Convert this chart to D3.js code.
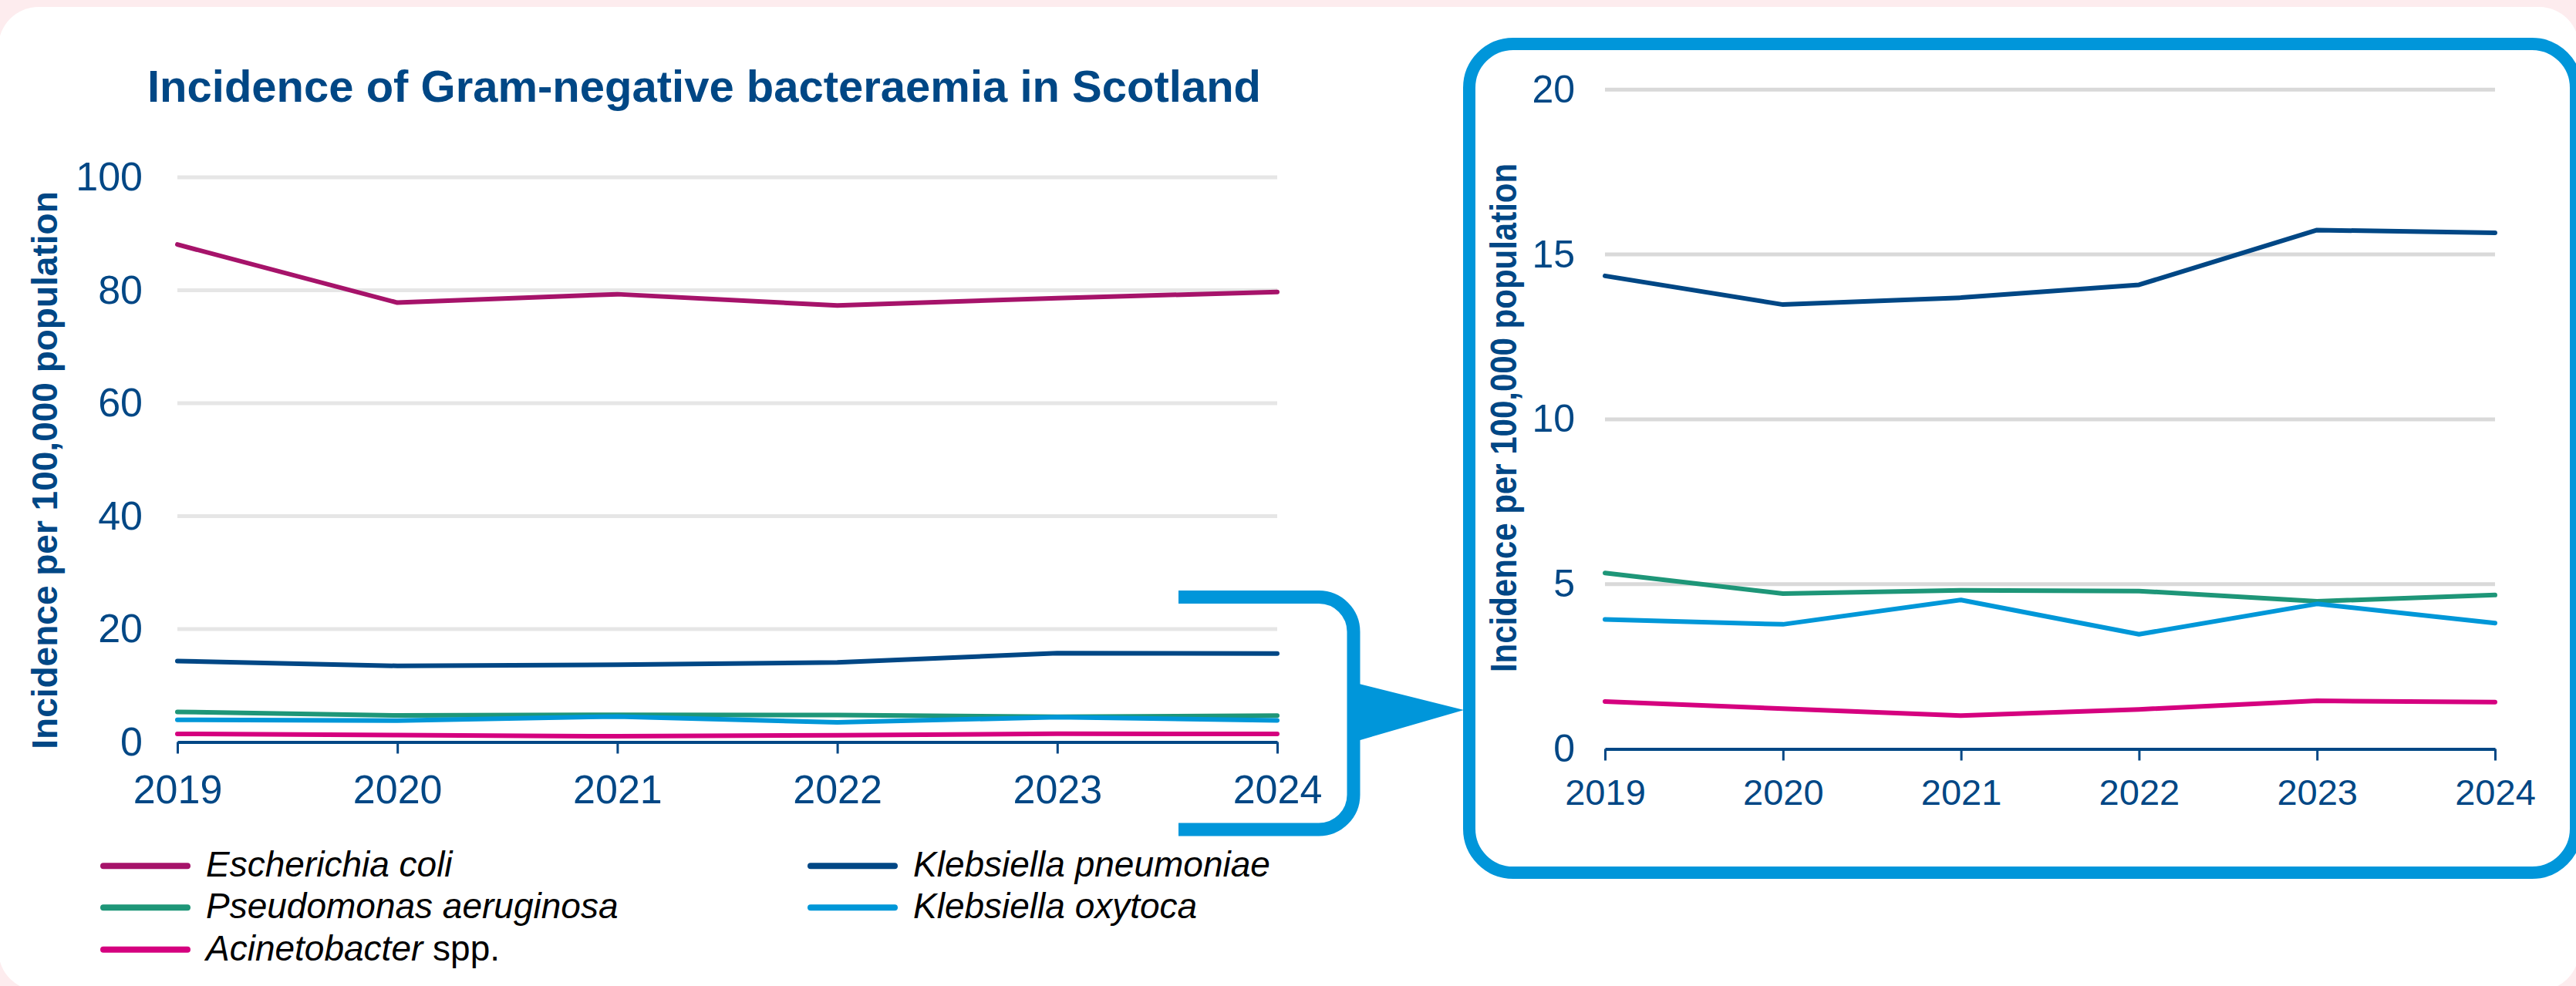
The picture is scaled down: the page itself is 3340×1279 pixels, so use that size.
<!DOCTYPE html>
<html>
<head>
<meta charset="utf-8">
<script src="https://cdn.jsdelivr.net/npm/d3@7"></script>
<style>
  html, body { margin: 0; padding: 0; background: #fdecee; }
  svg { display: block; }
</style>
</head>
<body>
<svg id="chart" width="3340" height="1279"></svg>
<script>
// Incidence per 100,000 population, Scotland, 2019-2024
const years = [2019, 2020, 2021, 2022, 2023, 2024];
const eColi = [88.1, 77.8, 79.3, 77.3, 78.6, 79.7];
const kPneumoniae = [14.35, 13.48, 13.69, 14.08, 15.74, 15.66];
const pAeruginosa = [5.34, 4.71, 4.81, 4.79, 4.48, 4.67];
const kOxytoca = [3.93, 3.78, 4.52, 3.48, 4.40, 3.82];
const acinetobacter = [1.44, 1.22, 1.01, 1.20, 1.46, 1.42];

const seriesNames = ["Escherichia coli", "Klebsiella pneumoniae", "Pseudomonas aeruginosa", "Klebsiella oxytoca", "Acinetobacter"];
const seriesValues = [eColi, kPneumoniae, pAeruginosa, kOxytoca, acinetobacter];
const seriesColors = ["#a6136a", "#004785", "#1e9678", "#0097d8", "#d5007f"];

const mainTicks = [0, 20, 40, 60, 80, 100];
const zoomTicks = [0, 5, 10, 15, 20];

const titleText = "Incidence of Gram-negative bacteraemia in Scotland";
const yTitleText = "Incidence per 100,000 population";

const NAVY = "#004785";
const BLUE = "#0096da";
const FONT = "'Liberation Sans', Arial, Helvetica, sans-serif";

const svg = d3.select("#chart");

// page background and white card
svg.append("rect").attr("width", 3340).attr("height", 1279).attr("fill", "#fdecee");
svg.append("rect").attr("x", -2).attr("y", 9).attr("width", 3346).attr("height", 1276)
  .attr("rx", 52).attr("fill", "#ffffff");

function drawPanel(opt) {
  const g = svg.append("g");
  const x = d3.scalePoint().domain(years).range([opt.x0, opt.x1]);
  const y = d3.scaleLinear().domain([0, d3.max(opt.ticks)]).range([opt.yBottom, opt.yTop]);

  // horizontal gridlines
  g.append("g").selectAll("line")
    .data(opt.ticks.filter(t => t !== 0))
    .join("line")
    .attr("x1", opt.x0).attr("x2", opt.x1)
    .attr("y1", d => y(d)).attr("y2", d => y(d))
    .attr("stroke", opt.gridColor).attr("stroke-width", 5);

  // x axis
  const xa = g.append("g")
    .attr("transform", `translate(0,${y(0)})`)
    .call(d3.axisBottom(x).tickSize(15).tickSizeOuter(0).tickPadding(opt.xPad));
  xa.attr("font-family", FONT).attr("font-size", opt.xFont).attr("color", NAVY);
  xa.select(".domain").attr("stroke-width", 4);
  xa.selectAll(".tick line").attr("stroke-width", 3);

  // y axis labels
  const ya = g.append("g")
    .attr("transform", `translate(${opt.x0},0)`)
    .call(d3.axisLeft(y).tickValues(opt.ticks).tickSize(0).tickPadding(opt.yPad));
  ya.attr("font-family", FONT).attr("font-size", opt.yFont).attr("color", NAVY);
  ya.select(".domain").remove();

  // series lines
  const line = d3.line().x((d, i) => x(years[i])).y(d => y(d));
  g.append("g").selectAll("path")
    .data(seriesValues)
    .join("path")
    .attr("d", d => line(d))
    .attr("fill", "none")
    .attr("stroke", (d, i) => seriesColors[i])
    .attr("stroke-width", 6)
    .attr("stroke-linecap", "round")
    .attr("stroke-linejoin", "round");

  // rotated axis title
  svg.append("text")
    .attr("transform", `translate(${opt.titleX},${opt.titleY}) rotate(-90) scale(${opt.titleStretch},1)`)
    .attr("text-anchor", "middle")
    .attr("font-family", FONT).attr("font-weight", "bold")
    .attr("font-size", opt.titleFont).attr("fill", NAVY)
    .text(yTitleText);
}

// main chart
drawPanel({
  x0: 230, x1: 1656, yBottom: 962.5, yTop: 230, ticks: mainTicks,
  gridColor: "#e6e6e6", xPad: 28, xFont: 52, yPad: 45, yFont: 52,
  titleX: 74, titleY: 610, titleFont: 46, titleStretch: 1
});

svg.append("text")
  .attr("x", 913).attr("y", 132)
  .attr("text-anchor", "middle")
  .attr("font-family", FONT).attr("font-weight", "bold").attr("font-size", 58)
  .attr("fill", NAVY)
  .text(titleText);

// bracket around the low-value region and pointer to the enlarged view
svg.append("path")
  .attr("d", "M1528,774.5 H1710 A45,45 0 0 1 1755,819.5 V1031 A45,45 0 0 1 1710,1076 H1528")
  .attr("fill", "none").attr("stroke", BLUE).attr("stroke-width", 17);
svg.append("path")
  .attr("d", "M1750,884 L1898,921 L1750,964 Z")
  .attr("fill", BLUE);

// enlarged view frame
svg.append("rect")
  .attr("x", 1905).attr("y", 57).attr("width", 1435).attr("height", 1075)
  .attr("rx", 57).attr("fill", "#ffffff")
  .attr("stroke", BLUE).attr("stroke-width", 16);

drawPanel({
  x0: 2081, x1: 3235, yBottom: 971.5, yTop: 116.3, ticks: zoomTicks,
  gridColor: "#d9d9d9", xPad: 24, xFont: 47, yPad: 39, yFont: 50,
  titleX: 1966, titleY: 542, titleFont: 48, titleStretch: 0.875
});

// legend
const legendPos = [
  { x: 130, y: 1123.3 }, { x: 1047, y: 1123.3 },
  { x: 130, y: 1177.3 }, { x: 1047, y: 1177.3 },
  { x: 130, y: 1231.7 }
];
const legend = svg.append("g").selectAll("g")
  .data(seriesNames)
  .join("g")
  .attr("transform", (d, i) => `translate(${legendPos[i].x},${legendPos[i].y})`);
legend.append("line")
  .attr("x1", 4).attr("x2", 113).attr("y1", 0).attr("y2", 0)
  .attr("stroke", (d, i) => seriesColors[i])
  .attr("stroke-width", 8).attr("stroke-linecap", "round");
const lt = legend.append("text")
  .attr("x", 137).attr("y", 14)
  .attr("font-family", FONT).attr("font-size", 46).attr("fill", "#000");
lt.append("tspan").attr("font-style", "italic").text(d => d);
lt.filter(d => d === "Acinetobacter").append("tspan").text(" spp.");
</script>
</body>
</html>
